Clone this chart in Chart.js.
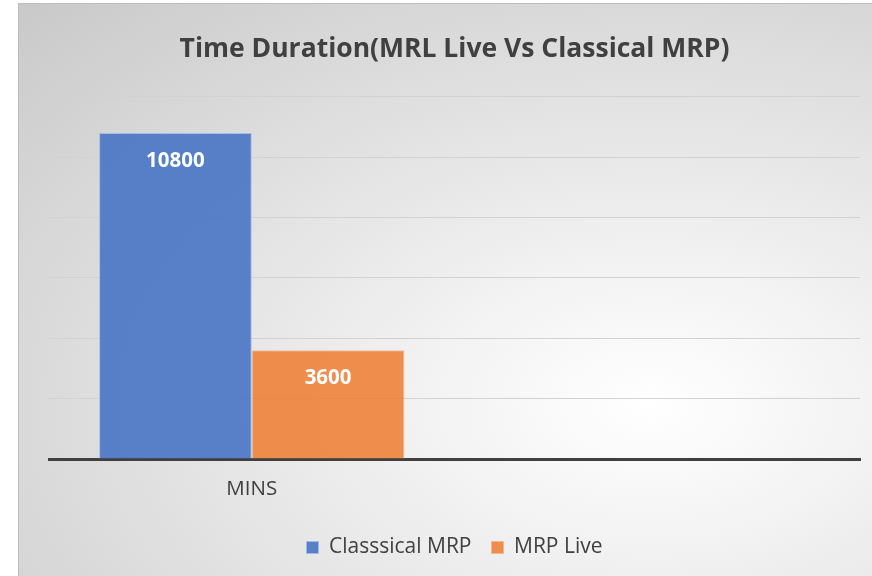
<!DOCTYPE html>
<html>
<head>
<meta charset="utf-8">
<script src="https://cdn.jsdelivr.net/npm/chart.js@4.4.1/dist/chart.umd.min.js"></script>
<style>
  html, body { margin: 0; padding: 0; background: #fff; }
  #wrap {
    position: absolute; left: 18px; top: 3px;
    width: 853px; height: 572px;
    border-left: 1px solid #bdbdbd; border-top: 1px solid #bdbdbd;
    background: radial-gradient(ellipse farthest-corner at 74% 70%, #ffffff 0%, #f4f4f4 22%, #c9c9c9 100%);
  }
</style>
</head>
<body>
<div id="wrap"><canvas id="chart"></canvas></div>
<script>
// Data
const categories = ["MINS", ""];
const seriesNames = ["Classsical MRP", "MRP Live"];
const classicalValues = [10800, null];
const liveValues = [3600, null];
const yTicks = [0, 2000, 4000, 6000, 8000, 10000, 12000];

const FONT = "'Open Sans', sans-serif";

// draws the white value labels inside the bars
const barLabels = {
  id: "barLabels",
  afterDatasetsDraw(chart) {
    const ctx = chart.ctx;
    ctx.save();
    ctx.fillStyle = "#ffffff";
    ctx.font = "bold 20.5px " + FONT;
    ctx.textAlign = "center";
    ctx.textBaseline = "middle";
    chart.data.datasets.forEach((ds, i) => {
      chart.getDatasetMeta(i).data.forEach((bar, j) => {
        if (ds.data[j] == null) return;
        ctx.fillText(ds.data[j], bar.x, bar.y + 28);
      });
    });
    ctx.restore();
  }
};

function loadChart() {
  const ctx = document.getElementById("chart").getContext("2d");
  new Chart(ctx, {
    type: "bar",
    data: {
      labels: categories,
      datasets: [
        {
          label: seriesNames[0],
          data: classicalValues,
          backgroundColor: "rgba(68,114,196,0.88)",
          borderColor: "rgba(160,185,230,0.9)",
          borderWidth: 1,
        },
        {
          label: seriesNames[1],
          data: liveValues,
          backgroundColor: "rgba(237,125,49,0.86)",
          borderColor: "rgba(245,180,140,0.9)",
          borderWidth: 1,
        },
      ],
    },
    options: {
      responsive: true,
      maintainAspectRatio: false,
      animation: false,
      datasets: { bar: { categoryPercentage: 0.753, barPercentage: 1.0 } },
      layout: { padding: { left: 30, right: 12, top: 0, bottom: 8 } },
      plugins: {
        title: {
          display: true,
          text: "Time Duration(MRL Live Vs Classical MRP)",
          color: "#404040",
          font: { family: FONT, size: 26.5, weight: "bold" },
          padding: { top: 30, bottom: 31 },
        },
        legend: {
          position: "bottom",
          labels: {
            color: "#404040",
            font: { family: FONT, size: 21 },
            boxWidth: 12,
            boxHeight: 12,
            padding: 20,
          },
        },
        tooltip: { enabled: false },
      },
      scales: {
        x: {
          grid: { display: false, drawTicks: false },
          border: { color: "#404040", width: 3 },
          ticks: { color: "#404040", font: { family: FONT, size: 20.5 }, padding: 18 },
          afterFit: (scale) => { scale.height = 58; },
        },
        y: {
          min: 0,
          max: 12000,
          afterBuildTicks: (scale) => { scale.ticks = yTicks.map((v) => ({ value: v })); },
          ticks: { display: false },
          grid: { color: "#d2d2d2", drawTicks: false },
          border: { display: false },
        },
      },
    },
    plugins: [barLabels],
  });
}

document.addEventListener("DOMContentLoaded", loadChart);
</script>
</body>
</html>
